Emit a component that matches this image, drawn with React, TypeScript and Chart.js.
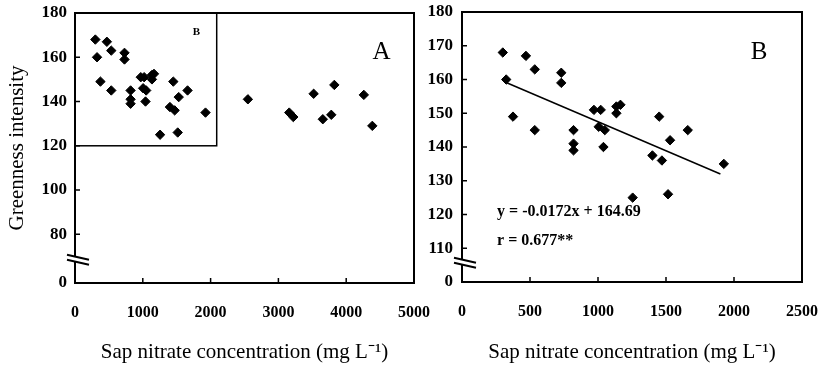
import React, { useEffect, useRef } from 'react';
import { Chart, registerables } from 'chart.js';

Chart.register(...registerables);

const FONT = '"Liberation Serif", "Times New Roman", serif';

// Sap nitrate (mg/L) and greenness intensity, samples below ~2000 mg/L (panel B, and inset of panel A)
const nitrateLow = [300, 325, 375, 470, 535, 535, 730, 730, 820, 820, 820, 970, 1020, 1005, 1050, 1040, 1135, 1135, 1165, 1255, 1400, 1450, 1470, 1515, 1530, 1660, 1925];
const greennessLow = [168, 160, 149, 167, 163, 145, 162, 159, 145, 141, 139, 151, 151, 146, 145, 140, 150, 152, 152.5, 125, 137.5, 149, 136, 126, 142, 145, 135];

// Additional samples shown only in panel A
const nitrateHigh = [2550, 3160, 3220, 3520, 3655, 3780, 3825, 4260, 4385];
const greennessHigh = [141, 135, 133, 143.5, 132, 134, 147.5, 143, 129];

// Regression line endpoints (panel B)
const fitX = [320, 1900];
const fitY = [159.2, 132.0];

// Axis ticks
const aXTicks = [0, 1000, 2000, 3000, 4000, 5000];
const aYTickValues = [58, 80, 100, 120, 140, 160, 180];
const aYTickLabels = ['0', '80', '100', '120', '140', '160', '180'];
const bXTicks = [0, 500, 1000, 1500, 2000, 2500];
const bYTickValues = [100, 110, 120, 130, 140, 150, 160, 170, 180];
const bYTickLabels = ['0', '110', '120', '130', '140', '150', '160', '170', '180'];

// Inset region in panel A marking the range of panel B
const insetX = [0, 2090];
const insetY = [120, 180];

const xTitle = 'Sap nitrate concentration (mg L\u207B\u00B9)';
const yTitle = 'Greenness intensity';
const equationText = 'y = -0.0172x + 164.69';
const rText = 'r = 0.677**';

const toPts = (xs: number[], ys: number[]) => xs.map((x, i) => ({ x, y: ys[i] }));

const framePlugin = {
  id: 'frame',
  beforeDatasetsDraw(chart: any, _args: any, opts: any) {
    const { ctx } = chart;
    const xs = chart.scales.x;
    const ys = chart.scales.y;
    if (opts.inset) {
      ctx.save();
      ctx.strokeStyle = '#000';
      ctx.lineWidth = 1.5;
      const x0 = xs.getPixelForValue(opts.inset.x[0]);
      const x1 = xs.getPixelForValue(opts.inset.x[1]);
      const y0 = ys.getPixelForValue(opts.inset.y[1]);
      const y1 = ys.getPixelForValue(opts.inset.y[0]);
      ctx.strokeRect(x0, y0, x1 - x0, y1 - y0);
      ctx.restore();
    }
  },
  afterDatasetsDraw(chart: any, _args: any, opts: any) {
    const { ctx, chartArea: ca } = chart;
    const xs = chart.scales.x;
    const ys = chart.scales.y;
    ctx.save();
    ctx.strokeStyle = '#000';
    ctx.lineWidth = 2;
    ctx.strokeRect(ca.left, ca.top, ca.right - ca.left, ca.bottom - ca.top);
    // inward tick marks
    ctx.lineWidth = 1.5;
    ctx.beginPath();
    for (const v of opts.xTicks) {
      const px = xs.getPixelForValue(v);
      ctx.moveTo(px, ca.bottom);
      ctx.lineTo(px, ca.bottom - 5);
    }
    for (const v of opts.yTicks) {
      const py = ys.getPixelForValue(v);
      ctx.moveTo(ca.left, py);
      ctx.lineTo(ca.left + 5, py);
    }
    ctx.stroke();
    // axis break
    const by = ys.getPixelForValue(opts.breakValue);
    const bx0 = ca.left - 8;
    const bx1 = ca.left + 14;
    const rise = 5;
    const gap = 5;
    const yA0 = by - gap / 2 - rise / 2;
    const yA1 = by - gap / 2 + rise / 2;
    ctx.fillStyle = '#fff';
    ctx.beginPath();
    ctx.moveTo(bx0, yA0);
    ctx.lineTo(bx1, yA1);
    ctx.lineTo(bx1, yA1 + gap);
    ctx.lineTo(bx0, yA0 + gap);
    ctx.closePath();
    ctx.fill();
    ctx.lineWidth = 2;
    ctx.beginPath();
    ctx.moveTo(bx0, yA0);
    ctx.lineTo(bx1, yA1);
    ctx.moveTo(bx0, yA0 + gap);
    ctx.lineTo(bx1, yA1 + gap);
    ctx.stroke();
    // annotations
    ctx.fillStyle = '#000';
    ctx.textBaseline = 'middle';
    for (const t of opts.texts) {
      ctx.font = t.font;
      ctx.textAlign = t.align;
      ctx.fillText(t.text, xs.getPixelForValue(t.x), ys.getPixelForValue(t.y));
    }
    ctx.restore();
  },
};

function makeConfig(p: any) {
  const xTickFont = { family: FONT, size: 16, weight: 'bold' as const };
  const yTickFont = { family: FONT, size: 17, weight: 'bold' as const };
  return {
    type: 'scatter' as const,
    data: { datasets: p.datasets },
    plugins: [framePlugin],
    options: {
      responsive: false,
      animation: false as const,
      layout: { padding: p.padding },
      plugins: {
        legend: { display: false },
        tooltip: { enabled: false },
        frame: p.frame,
      },
      scales: {
        x: {
          type: 'linear' as const,
          min: p.xMin,
          max: p.xMax,
          afterBuildTicks: (s: any) => {
            s.ticks = p.xTicks.map((v: number) => ({ value: v }));
          },
          afterFit: (s: any) => {
            s.height = p.xHeight;
            s.paddingLeft = 0;
            s.paddingRight = 0;
          },
          grid: { display: false, drawTicks: false },
          border: { display: false },
          ticks: {
            autoSkip: false,
            maxRotation: 0,
            padding: 20,
            color: '#000',
            font: xTickFont,
            callback: (v: any) => String(v),
          },
          title: {
            display: true,
            text: xTitle,
            color: '#000',
            font: { family: FONT, size: 21 },
            padding: { top: 0, bottom: 0 },
          },
        },
        y: {
          type: 'linear' as const,
          min: p.yMin,
          max: p.yMax,
          afterBuildTicks: (s: any) => {
            s.ticks = p.yTickValues.map((v: number) => ({ value: v }));
          },
          afterFit: (s: any) => {
            s.width = p.yWidth;
            s.paddingTop = 0;
            s.paddingBottom = 0;
          },
          grid: { display: false, drawTicks: false },
          border: { display: false },
          ticks: {
            autoSkip: false,
            padding: p.yPad,
            color: '#000',
            font: yTickFont,
            callback: (v: any) => {
              const i = p.yTickValues.indexOf(v);
              return i >= 0 ? p.yTickLabels[i] : '';
            },
          },
          title: p.yTitle
            ? {
                display: true,
                text: yTitle,
                color: '#000',
                font: { family: FONT, size: 21 },
                padding: { top: 5, bottom: 0 },
              }
            : { display: false },
        },
      },
    },
  };
}

const diamond = {
  pointStyle: 'rectRot',
  pointRadius: 4.7,
  backgroundColor: '#000',
  borderColor: '#000',
  borderWidth: 1,
};

function ChartCanvas({ config, left, width }: { config: any; left: number; width: number }) {
  const ref = useRef<HTMLCanvasElement | null>(null);
  useEffect(() => {
    if (!ref.current) return;
    const chart = new Chart(ref.current, config);
    return () => chart.destroy();
  }, [config]);
  return (
    <canvas
      ref={ref}
      width={width}
      height={365}
      style={{ position: 'absolute', left, top: 0, width, height: 365 }}
    />
  );
}

const configA = makeConfig({
  datasets: [
    { data: toPts(nitrateLow, greennessLow), ...diamond },
    { data: toPts(nitrateHigh, greennessHigh), ...diamond },
  ],
  padding: { top: 13, right: 26, left: 0, bottom: 0 },
  xMin: 0,
  xMax: 5000,
  xTicks: aXTicks,
  xHeight: 82,
  yMin: 58,
  yMax: 180,
  yTickValues: aYTickValues,
  yTickLabels: aYTickLabels,
  yWidth: 75,
  yPad: 8,
  yTitle: true,
  frame: {
    xTicks: [1000, 2000, 3000, 4000],
    yTicks: [80, 100, 120, 140, 160],
    breakValue: 68.5,
    inset: { x: insetX, y: insetY },
    texts: [
      { text: 'A', x: 4520, y: 162, font: `25px ${FONT}`, align: 'center' },
      { text: 'B', x: 1792, y: 171.2, font: `bold 11px ${FONT}`, align: 'center' },
    ],
  },
});

const configB = makeConfig({
  datasets: [
    { data: toPts(nitrateLow, greennessLow), ...diamond },
    {
      type: 'line',
      data: toPts(fitX, fitY),
      showLine: true,
      borderColor: '#000',
      borderWidth: 1.5,
      pointRadius: 0,
      fill: false,
    },
  ],
  padding: { top: 12, right: 26, left: 0, bottom: 0 },
  xMin: 0,
  xMax: 2500,
  xTicks: bXTicks,
  xHeight: 83,
  yMin: 100,
  yMax: 180,
  yTickValues: bYTickValues,
  yTickLabels: bYTickLabels,
  yWidth: 47,
  yPad: 9,
  yTitle: false,
  frame: {
    xTicks: [500, 1000, 1500, 2000],
    yTicks: [110, 120, 130, 140, 150, 160, 170],
    breakValue: 105.7,
    inset: null,
    texts: [
      { text: 'B', x: 2184, y: 168.1, font: `25px ${FONT}`, align: 'center' },
      { text: equationText, x: 258, y: 120.8, font: `bold 16px ${FONT}`, align: 'left' },
      { text: rText, x: 258, y: 112.2, font: `bold 16px ${FONT}`, align: 'left' },
    ],
  },
});

export default function App() {
  return (
    <div style={{ position: 'absolute', left: 0, top: 0, width: 828, height: 365, background: '#fff' }}>
      <ChartCanvas config={configA} left={0} width={440} />
      <ChartCanvas config={configB} left={415} width={413} />
    </div>
  );
}
